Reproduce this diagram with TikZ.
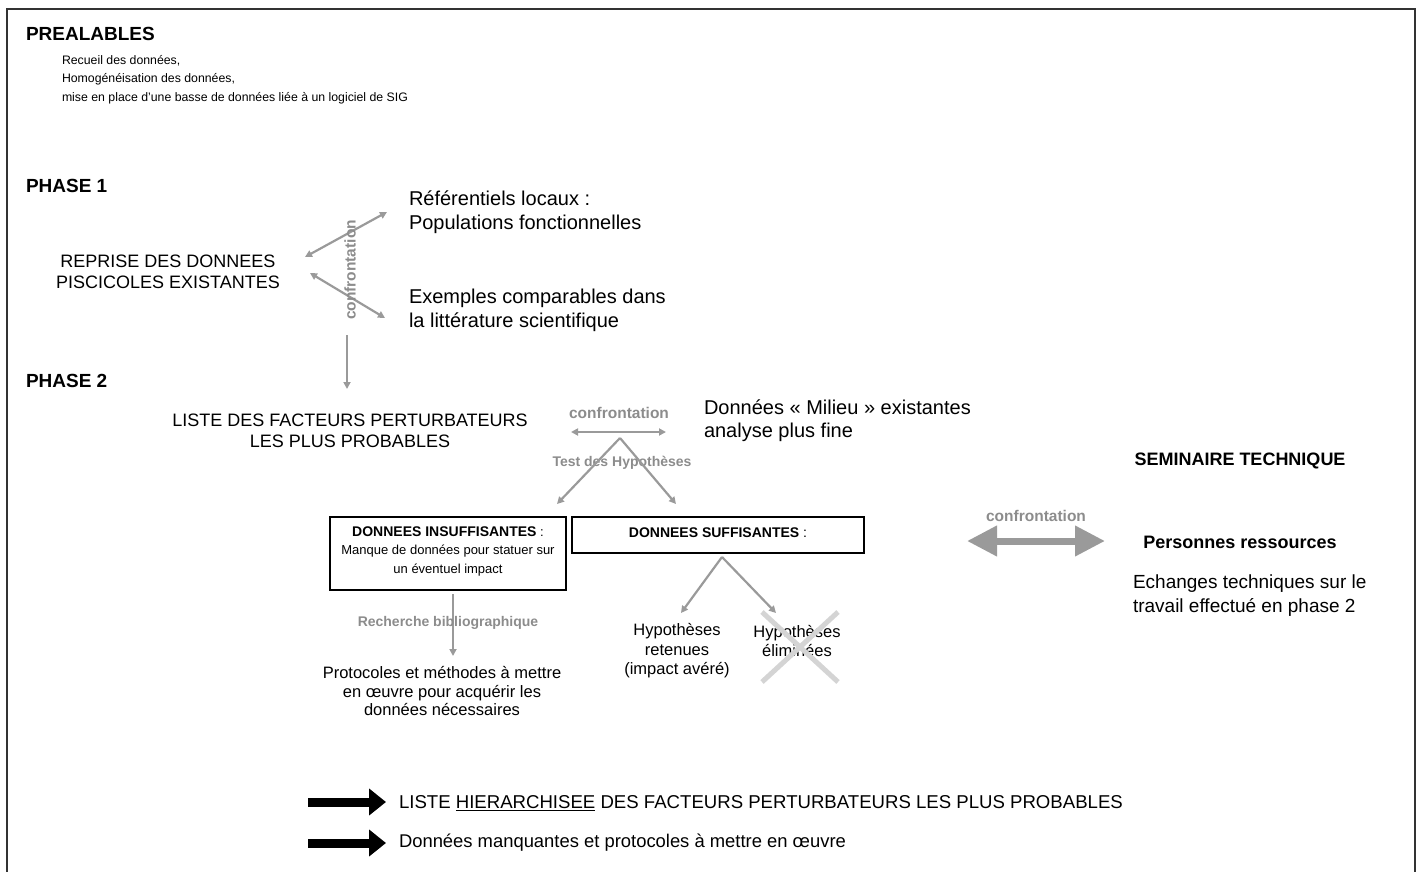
\documentclass[tikz,border=0pt]{standalone}
\usepackage{fontspec}
\setmainfont{Liberation Sans}
\usetikzlibrary{arrows.meta}
\newcommand\setfs[2]{\fontsize{#1}{#2}\selectfont}
\definecolor{lbl}{HTML}{8C8C8C}
\definecolor{arr}{HTML}{9A9A9A}
\definecolor{xgray}{HTML}{D4D4D4}
\tikzset{
  txt/.style={inner sep=0pt, outer sep=0pt, text=black},
  glabel/.style={inner sep=0pt, text=lbl, font=\bfseries\setfs{15.5}{18}},
  garrow/.style={draw=arr, line width=2.2pt, -{Triangle[length=7pt,width=7pt]}},
  gdarrow/.style={draw=arr, line width=2.2pt, {Triangle[length=7pt,width=7pt]}-{Triangle[length=7pt,width=7pt]}},
  bigdarrow/.style={draw=arr, line width=7pt, {Triangle[length=30pt,width=29pt]}-{Triangle[length=30pt,width=29pt]}},
  blackarrow/.style={draw=black, line width=9pt, -{Triangle[length=17pt,width=26pt]}},
  boxnode/.style={draw=black, line width=1.2pt, inner sep=0pt},
}
\begin{document}
\begin{tikzpicture}[x=1pt,y=-1pt]
\useasboundingbox (0,0) rectangle (1421,872);
% frame
\draw[line width=1.5pt, draw=black!80] (7,872) -- (7,9) -- (1415,9) -- (1415,872);

% PREALABLES
\node[txt, anchor=west, font=\bfseries\setfs{19}{22}] (prealables) at (26,34) {PREALABLES};
\node[txt, anchor=north west, align=left, font=\setfs{12.3}{18.5}] (recueil) at (62,55) {Recueil des données,\\Homogénéisation des données,\\mise en place d’une basse de données liée à un logiciel de SIG};

% PHASE 1
\node[txt, anchor=west, font=\bfseries\setfs{19}{22}] (phase1) at (26,186) {PHASE 1};
\node[txt, align=center, font=\setfs{18}{21}] (reprise) at (168,272) {REPRISE DES DONNEES\\PISCICOLES EXISTANTES};
\node[txt, anchor=west, align=left, font=\setfs{20}{24}] (refer) at (409,212) {Référentiels locaux :\\Populations fonctionnelles};
\node[txt, anchor=west, align=left, font=\setfs{20}{24}] (exemples) at (409,310) {Exemples comparables dans\\la littérature scientifique};

\coordinate (a1s) at (305,257);
\coordinate (a1e) at (387,212);
\coordinate (a2s) at (310,273);
\coordinate (a2e) at (385,318);
\draw[gdarrow] (a1s) -- (a1e);
\draw[gdarrow] (a2s) -- (a2e);
\node[glabel, rotate=90] (conf1) at (350,270) {confrontation};

\coordinate (v1s) at (347,335);
\coordinate (v1e) at (347,389);
\draw[garrow] (v1s) -- (v1e);

% PHASE 2
\node[txt, anchor=west, font=\bfseries\setfs{19}{22}] (phase2) at (26,381) {PHASE 2};
\node[txt, align=center, font=\setfs{18}{21}] (liste) at (350,431) {LISTE DES FACTEURS PERTURBATEURS\\LES PLUS PROBABLES};
\node[glabel] (conf2) at (619,413) {confrontation};
\coordinate (c2l) at (571,432);
\coordinate (c2r) at (666,432);
\draw[gdarrow] (c2l) -- (c2r);
\node[txt, anchor=west, align=left, font=\setfs{20}{23}] (milieu) at (704,421) {Données «~Milieu~» existantes\\analyse plus fine};

\coordinate (apex1) at (620,438);
\node[glabel, font=\bfseries\setfs{14}{17}] (test) at (622,463) {Test des Hypothèses};
\coordinate (t1) at (557,504);
\coordinate (t2) at (676,504);
\draw[garrow] (apex1) -- (t1);
\draw[garrow] (apex1) -- (t2);

% boxes
\node[boxnode, minimum width=236pt, minimum height=73pt] (box1) at (448,553.5) {};
\node[txt, align=center, font=\setfs{13}{18.5}] (box1txt) at (448,551) {{\bfseries\setfs{14}{18.5}DONNEES INSUFFISANTES} :\\Manque de données pour statuer sur\\un éventuel impact};
\node[boxnode, minimum width=292pt, minimum height=36pt] (box2) at (718,535) {};
\node[txt, font=\setfs{14}{17}] (box2txt) at (718,533) {{\bfseries DONNEES SUFFISANTES} :};

% below box 1
\coordinate (r1s) at (453,594);
\coordinate (r1e) at (453,656);
\draw[garrow] (r1s) -- (r1e);
\node[glabel, font=\bfseries\setfs{14}{17}] (biblio) at (448,623) {Recherche bibliographique};
\node[txt, align=center, font=\setfs{16.5}{18.5}] (protocoles) at (442,691) {Protocoles et méthodes à mettre\\en œuvre pour acquérir les\\données nécessaires};

% below box 2
\coordinate (apex2) at (722,557);
\coordinate (h1) at (681,613);
\coordinate (h2) at (776,613);
\draw[garrow] (apex2) -- (h1);
\draw[garrow] (apex2) -- (h2);
\node[txt, align=center, font=\setfs{16.5}{19.5}] (retenues) at (677,651) {Hypothèses\\retenues\\(impact avéré)};
\node[txt, align=center, font=\setfs{16.5}{19.5}] (eliminees) at (797,641) {Hypothèses\\éliminées};
\coordinate (x1) at (762,612);
\coordinate (x2) at (838,682);
\coordinate (x3) at (838,612);
\coordinate (x4) at (762,682);
\draw[draw=xgray, line width=5pt] (x1) -- (x2);
\draw[draw=xgray, line width=5pt] (x3) -- (x4);

% seminaire
\node[txt, font=\bfseries\setfs{18}{21}] (seminaire) at (1240,461) {SEMINAIRE TECHNIQUE};
\node[glabel] (conf3) at (1036,516) {confrontation};
\coordinate (b1) at (967,541);
\coordinate (b2) at (1105,541);
\draw[bigdarrow] (b1) -- (b2);
\node[txt, font=\bfseries\setfs{18}{21}] (personnes) at (1240,542) {Personnes ressources};
\node[txt, anchor=west, align=left, font=\setfs{19}{24}] (echanges) at (1133,596) {Echanges techniques sur le\\travail effectué en phase 2};

% legend
\coordinate (k1s) at (308,802);
\coordinate (k1e) at (386,802);
\draw[blackarrow] (k1s) -- (k1e);
\node[txt, anchor=west, font=\setfs{18.6}{21}] (leg1) at (399,803) {LISTE \underline{HIERARCHISEE} DES FACTEURS PERTURBATEURS LES PLUS PROBABLES};
\coordinate (k2s) at (308,843);
\coordinate (k2e) at (386,843);
\draw[blackarrow] (k2s) -- (k2e);
\node[txt, anchor=west, font=\setfs{18.4}{21}] (leg2) at (399,843) {Données manquantes et protocoles à mettre en œuvre};
\end{tikzpicture}
\end{document}
